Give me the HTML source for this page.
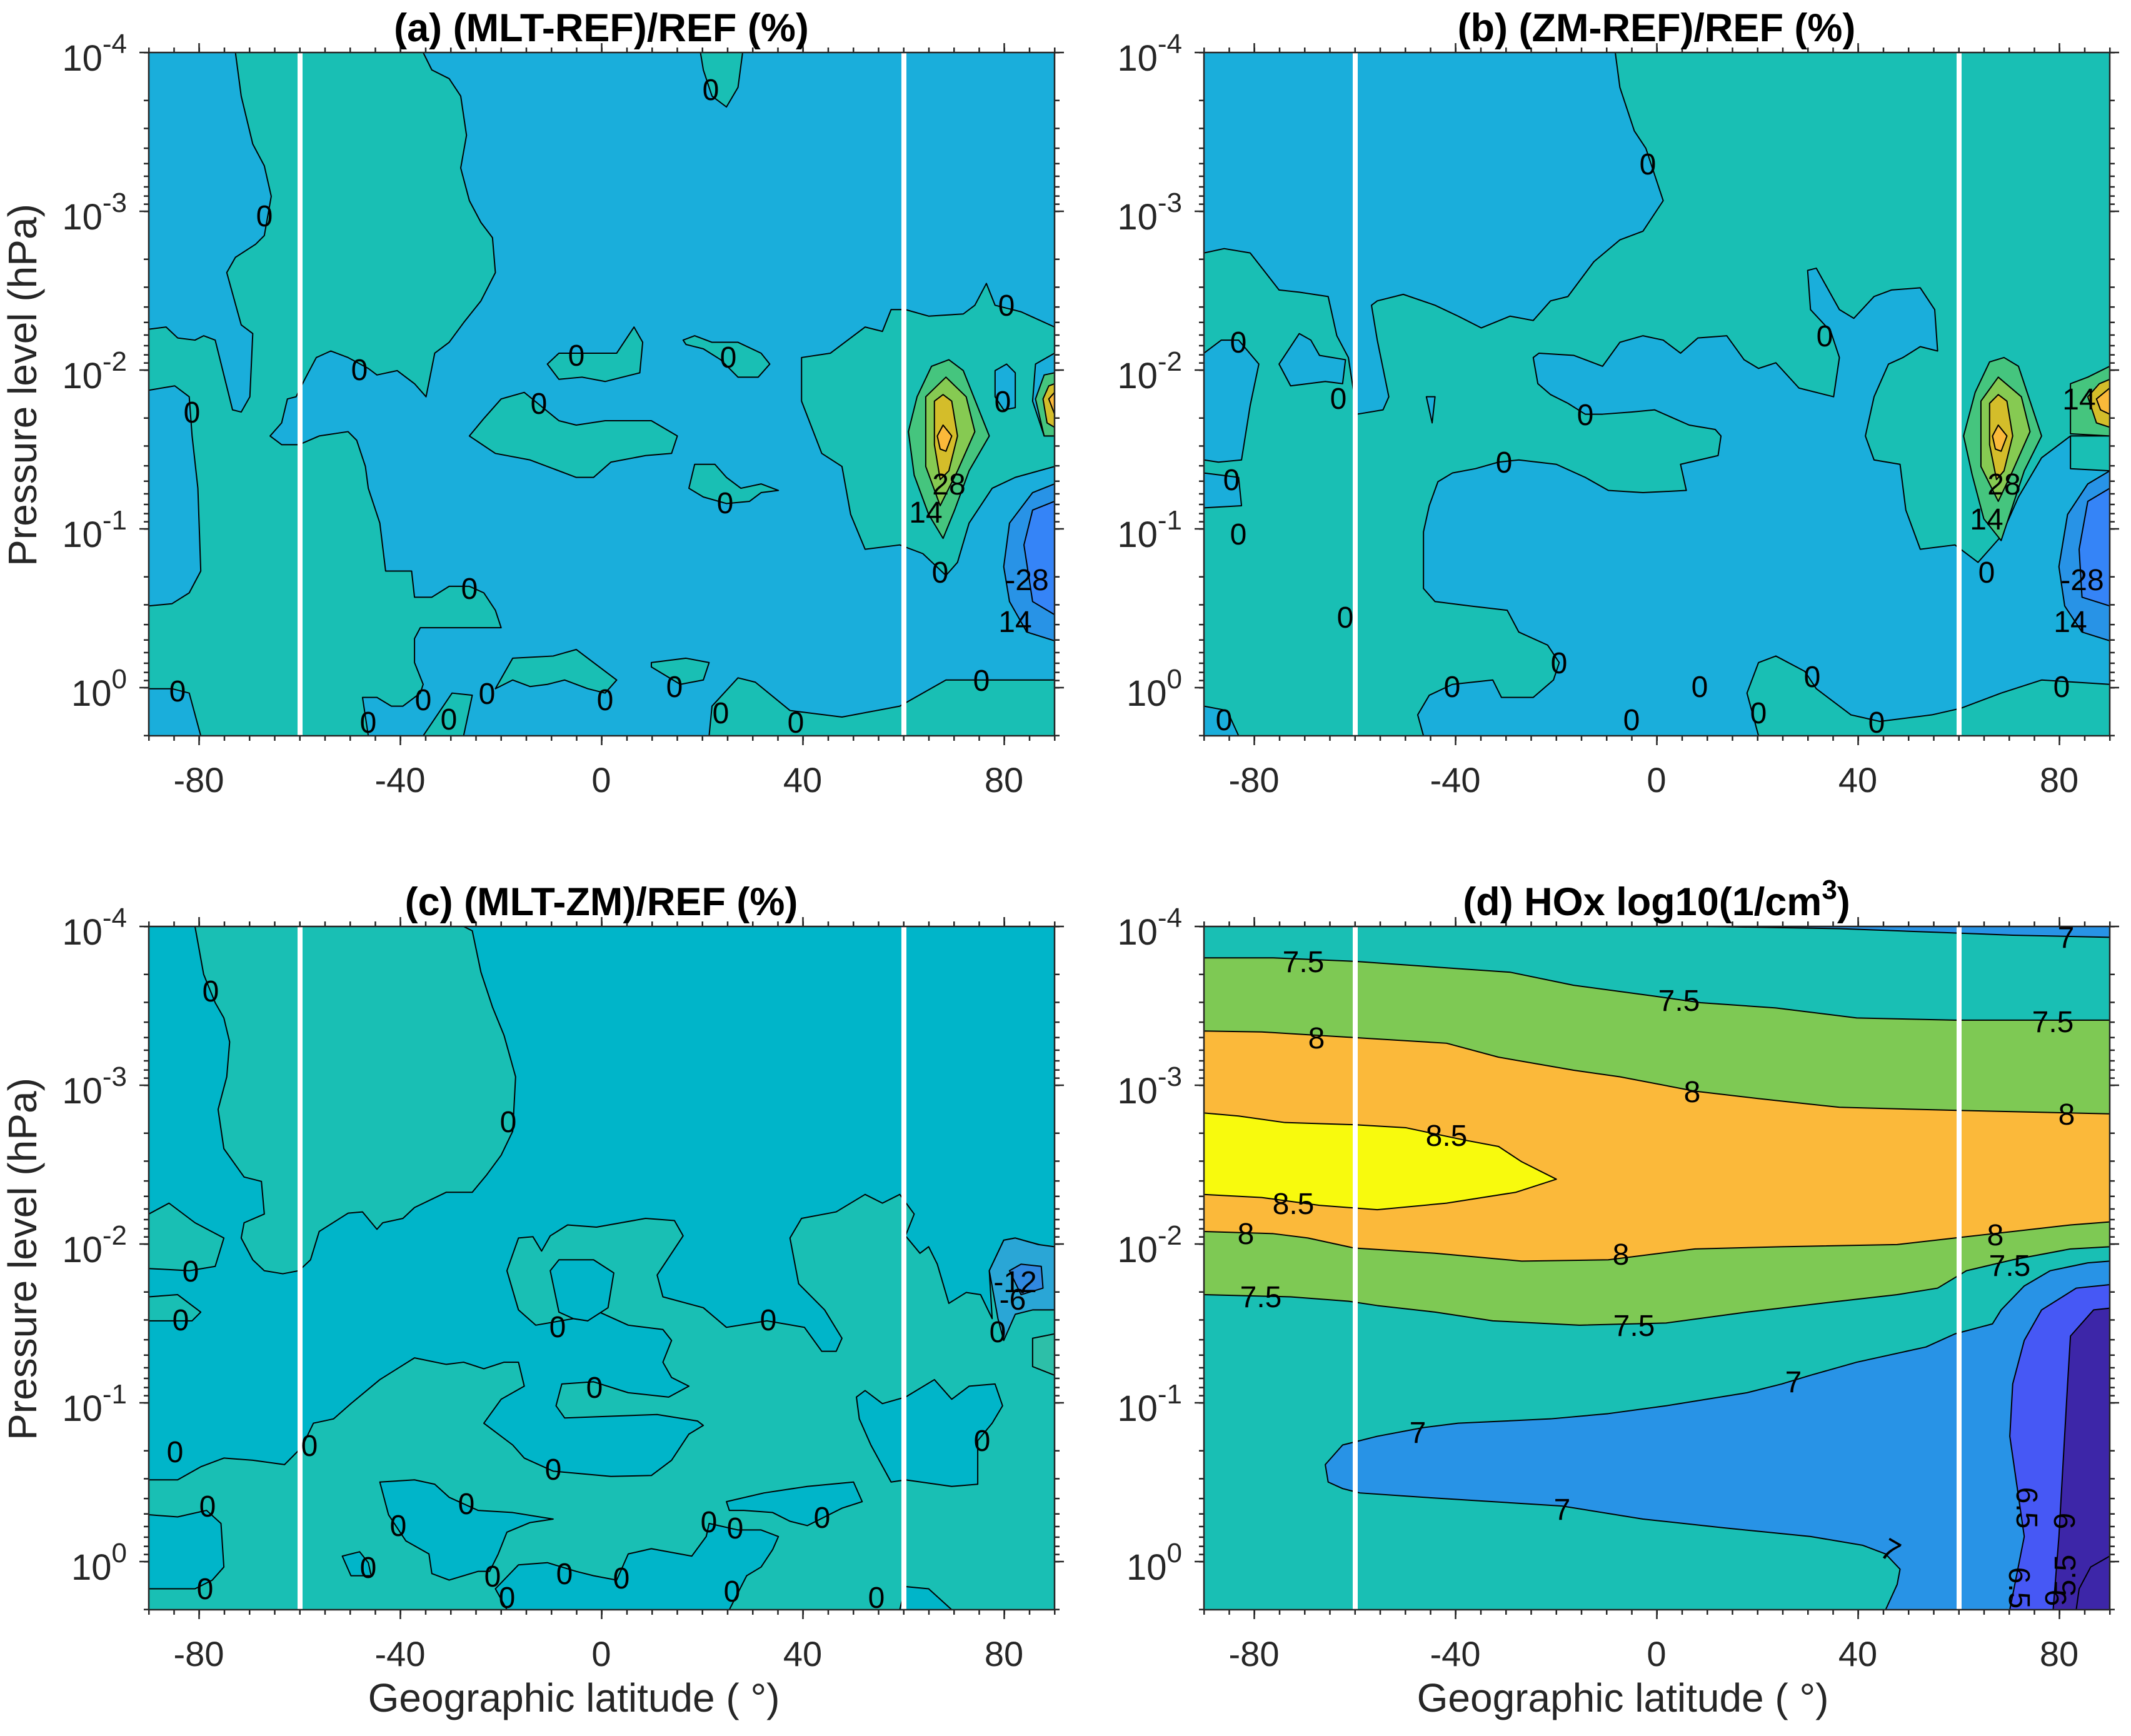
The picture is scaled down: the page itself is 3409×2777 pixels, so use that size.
<!DOCTYPE html>
<html><head><meta charset="utf-8"><style>
html,body{margin:0;padding:0;background:#fff;}
svg{display:block;}
.c polygon,.c polyline{stroke:#000;stroke-width:2;vector-effect:non-scaling-stroke;stroke-linejoin:round;}
.t{font-family:"Liberation Sans",sans-serif;fill:#262626;}
.lb{font-family:"Liberation Sans",sans-serif;font-size:48px;fill:#000;text-anchor:middle;}
</style></head><body>
<svg width="3409" height="2777" viewBox="0 0 3409 2777" xmlns="http://www.w3.org/2000/svg">
<defs>
<pattern id="pxb" x="237" y="0" width="40.25" height="10" patternUnits="userSpaceOnUse"><rect x="0" y="0" width="2.5" height="10" fill="#262626"/></pattern>
<pattern id="pxb2" x="1925" y="0" width="40.25" height="10" patternUnits="userSpaceOnUse"><rect x="0" y="0" width="2.5" height="10" fill="#262626"/></pattern>
<pattern id="py1" x="0" y="83" width="10" height="254" patternUnits="userSpaceOnUse"><g fill="#262626"><rect y="0" width="10" height="2.5"/><rect y="76.5" width="10" height="2.5"/><rect y="121.2" width="10" height="2.5"/><rect y="152.9" width="10" height="2.5"/><rect y="177.5" width="10" height="2.5"/><rect y="197.7" width="10" height="2.5"/><rect y="214.7" width="10" height="2.5"/><rect y="229.4" width="10" height="2.5"/><rect y="242.4" width="10" height="2.5"/></g></pattern>
<pattern id="py2" x="0" y="1481" width="10" height="254" patternUnits="userSpaceOnUse"><g fill="#262626"><rect y="0" width="10" height="2.5"/><rect y="76.5" width="10" height="2.5"/><rect y="121.2" width="10" height="2.5"/><rect y="152.9" width="10" height="2.5"/><rect y="177.5" width="10" height="2.5"/><rect y="197.7" width="10" height="2.5"/><rect y="214.7" width="10" height="2.5"/><rect y="229.4" width="10" height="2.5"/><rect y="242.4" width="10" height="2.5"/></g></pattern>
</defs>

<!-- Panel a -->
<svg class="c" x="238" y="84" width="1449" height="1093" viewBox="0 0 1568 1568" preserveAspectRatio="none">
<rect width="1568" height="1568" fill="#1aaedb"/>
<g fill="#19bfb4">
<polygon points="150,0 475,0 490,40 520,60 540,100 550,190 540,265 555,340 575,390 595,425 600,505 575,570 545,620 520,665 495,690 480,790 460,760 430,730 395,740 380,725 345,700 315,685 290,700 270,750 255,790 240,795 230,850 210,880 230,900 260,900 295,880 345,870 360,890 375,950 380,1000 400,1080 410,1190 455,1190 460,1250 490,1250 520,1225 555,1225 580,1240 600,1280 610,1320 470,1320 460,1345 460,1400 475,1450 470,1470 440,1500 420,1500 395,1480 370,1480 380,1568 90,1568 70,1470 40,1460 0,1460 0,1270 40,1265 70,1240 90,1190 85,1000 75,880 70,790 45,765 0,775 0,635 30,630 50,655 80,660 95,650 115,660 130,740 145,820 160,825 175,790 180,645 160,625 135,505 150,470 185,440 200,420 212,330 200,260 180,210 160,100"/>
<polygon points="970,1568 975,1500 1020,1435 1050,1445 1110,1510 1200,1525 1300,1500 1380,1440 1568,1440 1568,1568"/>
<polygon points="600,1460 630,1390 700,1385 740,1370 770,1400 810,1440 790,1470 760,1460 720,1440 690,1450 660,1455 630,1440"/>
<polygon points="870,1400 930,1390 970,1400 960,1440 920,1450 870,1410"/>
<polygon points="475,1568 525,1470 560,1475 545,1568"/>
<polygon points="690,715 710,690 760,690 810,690 840,630 855,665 850,735 820,745 790,755 750,745 710,750"/>
<polygon points="925,660 945,650 975,665 1020,665 1060,690 1075,715 1055,745 1020,745 990,705 960,680 930,670"/>
<polygon points="555,880 580,840 610,795 650,780 710,845 740,855 790,845 870,845 915,880 905,920 860,925 800,940 770,975 740,975 700,955 660,935 600,920"/>
<polygon points="935,1000 945,945 980,945 1000,975 1025,1000 1060,990 1090,1005 1060,1010 1040,1030 1000,1035 960,1020"/>
<polygon points="955,0 1028,0 1020,80 1000,125 975,100 960,40"/>
<polygon points="1130,700 1180,690 1240,630 1270,640 1285,590 1310,590 1350,605 1410,600 1430,580 1450,530 1465,580 1510,595 1568,630 1568,690 1535,715 1530,800 1550,880 1568,880 1568,950 1500,975 1460,1000 1420,1080 1400,1170 1380,1200 1340,1150 1300,1130 1240,1140 1215,1060 1200,950 1165,920 1130,800"/>
</g>
<polygon fill="#1aaedb" points="1465,730 1485,715 1500,735 1500,815 1480,820 1465,790"/>
<polygon fill="#45c57e" points="1315,870 1330,790 1355,720 1385,705 1410,730 1455,880 1420,960 1395,1050 1375,1115 1350,1060 1325,970"/>
<polygon fill="#86ca52" points="1345,790 1380,745 1415,790 1430,870 1400,960 1370,1040 1345,950"/>
<polygon fill="#d4bd2a" points="1360,800 1375,785 1390,800 1400,880 1385,960 1370,980 1360,900"/>
<polygon fill="#fbb93a" points="1365,880 1375,855 1390,880 1380,915 1370,910"/>
<polygon fill="#45c57e" points="1535,795 1550,740 1568,735 1568,880 1550,880"/>
<polygon fill="#d4bd2a" points="1548,795 1558,765 1568,760 1568,860 1555,850"/>
<polygon fill="#fbb93a" points="1558,795 1568,780 1568,830"/>
<polygon fill="#2893e6" points="1480,1180 1490,1080 1530,1010 1568,990 1568,1350 1520,1330 1490,1260"/>
<polygon fill="#3584f7" points="1515,1130 1530,1050 1568,1030 1568,1290 1530,1260"/>
</svg>

<!-- Panel b -->
<svg class="c" x="1926" y="84" width="1449" height="1093" viewBox="0 0 1568 1568" preserveAspectRatio="none">
<rect width="1568" height="1568" fill="#19bfb4"/>
<g fill="#1aaedb">
<polygon points="0,0 712,0 720,80 745,180 765,220 795,340 760,410 720,430 675,480 630,560 600,570 570,615 530,605 480,632 440,605 400,580 345,555 300,570 290,580 300,660 320,790 310,820 265,830 250,700 230,650 215,560 165,550 130,545 80,460 35,450 0,460"/>
<polygon points="0,690 30,660 60,660 95,715 80,810 65,935 25,940 0,935"/>
<polygon points="130,715 165,645 185,660 200,695 245,705 240,760 210,755 180,760 150,765"/>
<polygon points="0,965 60,975 65,1040 0,1045"/>
<polygon points="570,700 580,690 640,695 690,720 720,665 760,650 795,660 825,690 855,655 905,650 935,705 960,725 990,712 1030,770 1090,790 1100,700 1085,640 1050,590 1045,500 1060,495 1100,590 1125,610 1160,560 1190,545 1240,540 1265,590 1270,685 1240,675 1210,700 1185,715 1160,790 1145,880 1160,935 1205,945 1215,1050 1240,1140 1300,1130 1340,1170 1380,1110 1410,1020 1450,930 1500,880 1568,880 1568,1450 1450,1440 1380,1470 1310,1505 1260,1520 1170,1535 1120,1520 1060,1460 1040,1420 990,1385 960,1400 940,1470 960,1568 380,1568 370,1520 390,1475 430,1450 500,1440 515,1480 570,1480 605,1440 615,1400 595,1360 545,1330 525,1280 460,1270 400,1260 380,1230 380,1100 390,1040 405,985 430,965 470,955 510,940 545,935 610,945 660,975 700,1005 760,1010 835,1005 825,945 890,925 895,880 885,865 840,855 780,820 740,825 690,830 660,830 630,805 600,785 578,760"/>
<polygon points="385,790 400,790 395,850"/>
<polygon points="0,1500 40,1510 60,1568 0,1568"/>
</g>
<polygon fill="#19bfb4" points="1500,880 1568,880 1568,960 1500,955"/>
<polygon fill="#45c57e" points="1315,880 1335,780 1360,710 1385,700 1410,720 1450,880 1420,960 1400,1040 1380,1120 1350,1070 1330,970"/>
<polygon fill="#86ca52" points="1345,800 1375,745 1415,790 1430,870 1400,960 1375,1030 1345,950"/>
<polygon fill="#d4bd2a" points="1360,805 1375,785 1390,800 1400,880 1385,960 1372,980 1360,900"/>
<polygon fill="#fbb93a" points="1365,880 1375,855 1390,880 1380,915 1370,910"/>
<polygon fill="#45c57e" points="1500,760 1530,745 1568,720 1568,880 1500,875"/>
<polygon fill="#d4bd2a" points="1530,790 1550,760 1568,750 1568,860 1545,850"/>
<polygon fill="#fbb93a" points="1545,795 1568,770 1568,830 1552,820"/>
<polygon fill="#2893e6" points="1480,1180 1495,1060 1530,990 1568,960 1568,1350 1520,1330 1490,1270"/>
<polygon fill="#3584f7" points="1515,1140 1530,1030 1568,1000 1568,1270 1520,1250"/>
</svg>

<!-- Panel c -->
<svg class="c" x="238" y="1482" width="1449" height="1093" viewBox="0 0 1568 1568" preserveAspectRatio="none">
<rect width="1568" height="1568" fill="#00b5c9"/>
<g fill="#19bfb4">
<polygon points="80,0 545,0 560,10 575,105 595,185 615,250 635,345 630,470 610,525 585,570 560,610 515,610 460,645 440,670 405,680 395,695 370,655 345,658 295,700 280,765 260,790 232,797 200,790 180,765 160,715 165,680 200,660 195,585 165,575 130,510 120,420 135,345 140,265 130,210 115,175 95,110"/>
<polygon points="0,660 35,635 80,680 130,715 115,780 70,790 0,785"/>
<polygon points="0,850 50,845 90,885 75,905 0,905"/>
<polygon points="0,1270 50,1270 90,1240 130,1220 180,1225 235,1235 265,1195 285,1140 320,1130 350,1095 400,1040 460,990 515,1005 545,1000 580,1015 615,1000 640,1000 650,1055 610,1085 580,1140 630,1190 650,1220 700,1250 800,1262 870,1260 905,1225 935,1165 960,1145 950,1135 880,1120 720,1128 705,1100 715,1050 770,1045 830,1070 900,1080 935,1055 905,1035 890,1000 905,950 890,925 830,915 780,885 760,905 735,900 670,915 640,880 620,790 640,715 665,712 680,745 695,710 725,685 775,690 860,670 910,675 925,710 880,800 890,850 960,875 1000,920 1070,905 1135,920 1165,975 1190,975 1200,945 1170,880 1125,820 1110,715 1130,670 1190,655 1240,615 1270,635 1300,615 1325,660 1310,710 1335,750 1350,735 1365,775 1385,865 1415,840 1440,845 1460,900 1455,790 1480,720 1500,715 1568,740 1568,1568 0,1568"/>
</g>
<g fill="#00b5c9">
<polygon points="695,790 710,765 770,765 805,795 795,875 760,905 735,900 710,885"/>
<polygon points="1225,1080 1240,1065 1270,1095 1310,1080 1360,1040 1390,1085 1420,1055 1465,1050 1478,1100 1460,1140 1435,1180 1435,1280 1390,1285 1310,1270 1285,1275 1250,1190 1230,1130"/>
<polygon points="0,1350 50,1355 100,1340 125,1370 130,1470 110,1500 80,1520 0,1520"/>
<polygon points="400,1275 460,1270 495,1280 520,1310 570,1340 630,1345 700,1360 660,1368 620,1390 605,1440 590,1480 570,1480 520,1500 490,1485 485,1440 445,1410 415,1350"/>
<polygon points="600,1520 640,1465 690,1460 740,1480 770,1490 810,1500 830,1440 870,1428 940,1445 965,1400 970,1370 1020,1385 1060,1385 1090,1400 1080,1430 1060,1470 1035,1490 1005,1568 620,1568"/>
<polygon points="1000,1320 1065,1300 1140,1285 1220,1275 1235,1320 1200,1335 1140,1375 1110,1365 1080,1345 1030,1340 1005,1340"/>
<polygon points="1310,1515 1350,1520 1390,1568 1300,1568"/>
<polygon points="335,1445 365,1435 380,1460 385,1490 350,1490"/>
</g>
<polygon fill="#2aa6d6" points="1455,790 1480,720 1500,715 1540,730 1568,735 1568,880 1530,880 1500,890 1480,950 1470,900"/>
<polygon fill="#3088e0" points="1490,790 1510,775 1545,780 1548,830 1510,845"/>
<polygon fill="#2dbfa8" points="1530,945 1568,935 1568,1030 1530,1010"/>
</svg>

<!-- Panel d -->
<svg class="c" x="1926" y="1482" width="1449" height="1093" viewBox="0 0 1568 1568" preserveAspectRatio="none">
<rect width="1568" height="1568" fill="#19bfb4"/>
<polygon fill="#7ec954" points="0,72 120,72 260,80 420,95 530,105 640,135 780,160 860,175 990,187 1130,210 1300,215 1568,215 1568,735 1500,740 1400,765 1320,790 1270,830 1200,845 1100,860 940,885 800,910 650,915 500,905 400,885 300,870 250,860 150,850 0,845"/>
<polygon fill="#fbb93a" points="0,240 100,242 260,255 420,268 510,300 640,330 720,345 850,378 960,395 1100,415 1300,422 1568,430 1568,678 1500,685 1400,700 1300,715 1200,730 1000,735 850,740 700,765 550,768 400,750 260,738 180,715 120,705 0,700"/>
<polygon fill="#f8fa0d" points="0,428 60,435 140,450 260,455 350,462 450,490 510,505 550,540 610,580 540,610 420,635 300,650 200,640 100,622 0,615"/>
<polygon fill="#2893e6" points="870,0 1568,0 1568,25 1400,20 1100,5"/>
<polygon fill="#2893e6" points="210,1235 240,1190 300,1170 380,1150 440,1140 600,1130 700,1118 800,1100 940,1070 1000,1050 1050,1030 1130,1000 1250,965 1300,935 1365,912 1380,880 1420,825 1465,790 1530,772 1568,768 1568,1568 1180,1568 1200,1510 1205,1475 1180,1440 1140,1420 1050,1400 900,1380 760,1360 620,1330 500,1320 380,1310 270,1300 240,1290 215,1275"/>
<polygon fill="#4658f5" points="1395,1568 1420,1400 1395,1170 1400,1050 1420,950 1450,880 1510,830 1568,822 1568,1568"/>
<polygon fill="#3d26a8" points="1470,1568 1480,1400 1495,1050 1500,940 1540,880 1568,876 1568,1568"/>
<polyline fill="none" points="1568,1445 1535,1470 1515,1520 1510,1568"/>
</svg>

<!-- white lines -->
<g fill="#fff">
<rect x="476" y="84" width="8" height="1093"/><rect x="1442" y="84" width="8" height="1093"/>
<rect x="2164" y="84" width="8" height="1093"/><rect x="3130" y="84" width="8" height="1093"/>
<rect x="476" y="1482" width="8" height="1093"/><rect x="1442" y="1482" width="8" height="1093"/>
<rect x="2164" y="1482" width="8" height="1093"/><rect x="3130" y="1482" width="8" height="1093"/>
</g>

<!-- contour labels -->
<g class="lb">
<text x="423" y="362">0</text><text x="575" y="608">0</text><text x="922" y="585">0</text><text x="1165" y="588">0</text>
<text x="862" y="662">0</text><text x="1160" y="821">0</text><text x="1137" y="160">0</text><text x="751" y="958">0</text>
<text x="1610" y="505">0</text><text x="1604" y="659">0</text><text x="1504" y="932">0</text><text x="1570" y="1105">0</text>
<text x="307" y="676">0</text><text x="284" y="1122">0</text><text x="1518" y="791">28</text><text x="1481" y="836">14</text>
<text x="1643" y="944">-28</text><text x="1624" y="1011">14</text>
<text x="677" y="1136">0</text><text x="779" y="1126">0</text><text x="968" y="1136">0</text><text x="1079" y="1115">0</text>
<text x="1153" y="1157">0</text><text x="1273" y="1172">0</text><text x="589" y="1172">0</text><text x="718" y="1167">0</text>

<text x="2636" y="279">0</text><text x="1981" y="564">0</text><text x="2141" y="654">0</text><text x="2536" y="680">0</text>
<text x="2406" y="756">0</text><text x="2919" y="554">0</text><text x="1970" y="784">0</text><text x="1981" y="871">0</text>
<text x="2152" y="1004">0</text><text x="3206" y="791">28</text><text x="3178" y="847">14</text><text x="3326" y="655">14</text>
<text x="3178" y="932">0</text><text x="3331" y="944">-28</text><text x="3312" y="1011">14</text><text x="3298" y="1115">0</text>
<text x="2494" y="1077">0</text><text x="2323" y="1115">0</text><text x="2719" y="1115">0</text><text x="2899" y="1099">0</text>
<text x="3002" y="1172">0</text><text x="2813" y="1157">0</text><text x="1958" y="1168">0</text><text x="2610" y="1168">0</text>

<text x="337" y="1602">0</text><text x="813" y="1811">0</text><text x="305" y="2050">0</text><text x="289" y="2128">0</text>
<text x="892" y="2139">0</text><text x="1229" y="2128">0</text><text x="951" y="2236">0</text><text x="495" y="2329">0</text>
<text x="280" y="2339">0</text><text x="885" y="2367">0</text><text x="746" y="2422">0</text><text x="637" y="2457">0</text>
<text x="332" y="2426">0</text><text x="1571" y="2321">0</text><text x="1596" y="2147">0</text><text x="1315" y="2444">0</text>
<text x="1134" y="2451">0</text><text x="1176" y="2461">0</text><text x="1624" y="2067">-12</text><text x="1620" y="2095">-6</text>
<text x="589" y="2524">0</text><text x="788" y="2538">0</text><text x="903" y="2534">0</text><text x="994" y="2541">0</text>
<text x="328" y="2558">0</text><text x="1171" y="2562">0</text><text x="811" y="2572">0</text><text x="1402" y="2572">0</text>

<text x="2085" y="1555">7.5</text><text x="2686" y="1617">7.5</text><text x="3284" y="1651">7.5</text>
<text x="2106" y="1677">8</text><text x="2707" y="1763">8</text><text x="3306" y="1799">8</text>
<text x="2314" y="1833">8.5</text><text x="2069" y="1942">8.5</text><text x="1993" y="1990">8</text>
<text x="2593" y="2023">8</text><text x="3192" y="1992">8</text><text x="3215" y="2041">7.5</text>
<text x="2017" y="2091">7.5</text><text x="2614" y="2137">7.5</text><text x="2869" y="2227">7</text>
<text x="2268" y="2308">7</text><text x="2499" y="2431">7</text><text x="3305" y="1516">7</text>
<text transform="translate(3016,2494) rotate(30)">7</text>
<text transform="translate(3226,2412) rotate(90)">6.5</text>
<text transform="translate(3286,2433) rotate(90)">6</text>
<text transform="translate(3214,2540) rotate(90)">6.5</text>
<text transform="translate(3272,2556) rotate(90)">6</text>
<text transform="translate(3320,2520) rotate(-90)">5.5</text>
</g>

<!-- axes boxes -->
<g fill="none" stroke="#262626" stroke-width="2.5">
<rect x="238" y="84" width="1449" height="1093"/><rect x="1926" y="84" width="1449" height="1093"/>
<rect x="238" y="1482" width="1449" height="1093"/><rect x="1926" y="1482" width="1449" height="1093"/>
</g>
<!-- minor ticks -->
<rect x="237" y="1177" width="1452" height="8" fill="url(#pxb)"/><rect x="237" y="76" width="1452" height="8" fill="url(#pxb)"/>
<rect x="237" y="2575" width="1452" height="8" fill="url(#pxb)"/><rect x="237" y="1474" width="1452" height="8" fill="url(#pxb)"/>
<rect x="1925" y="1177" width="1452" height="8" fill="url(#pxb2)"/><rect x="1925" y="76" width="1452" height="8" fill="url(#pxb2)"/>
<rect x="1925" y="2575" width="1452" height="8" fill="url(#pxb2)"/><rect x="1925" y="1474" width="1452" height="8" fill="url(#pxb2)"/>
<rect x="230" y="83" width="8" height="1096" fill="url(#py1)"/><rect x="1687" y="83" width="8" height="1096" fill="url(#py1)"/>
<rect x="1918" y="83" width="8" height="1096" fill="url(#py1)"/><rect x="3375" y="83" width="8" height="1096" fill="url(#py1)"/>
<rect x="230" y="1481" width="8" height="1096" fill="url(#py2)"/><rect x="1687" y="1481" width="8" height="1096" fill="url(#py2)"/>
<rect x="1918" y="1481" width="8" height="1096" fill="url(#py2)"/><rect x="3375" y="1481" width="8" height="1096" fill="url(#py2)"/>
<!-- major ticks -->
<g stroke="#262626" stroke-width="2.5">
<path d="M318.5,1177v15M640.5,1177v15M962.5,1177v15M1284.5,1177v15M1606.5,1177v15M318.5,84v-15M640.5,84v-15M962.5,84v-15M1284.5,84v-15M1606.5,84v-15"/>
<path d="M318.5,2575v15M640.5,2575v15M962.5,2575v15M1284.5,2575v15M1606.5,2575v15M318.5,1482v-15M640.5,1482v-15M962.5,1482v-15M1284.5,1482v-15M1606.5,1482v-15"/>
<path d="M2006.5,1177v15M2328.5,1177v15M2650.5,1177v15M2972.5,1177v15M3294.5,1177v15M2006.5,84v-15M2328.5,84v-15M2650.5,84v-15M2972.5,84v-15M3294.5,84v-15"/>
<path d="M2006.5,2575v15M2328.5,2575v15M2650.5,2575v15M2972.5,2575v15M3294.5,2575v15M2006.5,1482v-15M2328.5,1482v-15M2650.5,1482v-15M2972.5,1482v-15M3294.5,1482v-15"/>
<path d="M238,84h-15M238,338h-15M238,592h-15M238,846h-15M238,1100h-15M1687,84h15M1687,338h15M1687,592h15M1687,846h15M1687,1100h15"/>
<path d="M1926,84h-15M1926,338h-15M1926,592h-15M1926,846h-15M1926,1100h-15M3375,84h15M3375,338h15M3375,592h15M3375,846h15M3375,1100h15"/>
<path d="M238,1482h-15M238,1736h-15M238,1990h-15M238,2244h-15M238,2498h-15M1687,1482h15M1687,1736h15M1687,1990h15M1687,2244h15M1687,2498h15"/>
<path d="M1926,1482h-15M1926,1736h-15M1926,1990h-15M1926,2244h-15M1926,2498h-15M3375,1482h15M3375,1736h15M3375,1990h15M3375,2244h15M3375,2498h15"/>
</g>

<!-- y tick labels -->
<g class="t" font-size="58" text-anchor="end">
<text x="203" y="113">10<tspan font-size="44" dy="-28">-4</tspan></text>
<text x="203" y="367">10<tspan font-size="44" dy="-28">-3</tspan></text>
<text x="203" y="621">10<tspan font-size="44" dy="-28">-2</tspan></text>
<text x="203" y="875">10<tspan font-size="44" dy="-28">-1</tspan></text>
<text x="203" y="1129">10<tspan font-size="44" dy="-28">0</tspan></text>
<text x="1891" y="113">10<tspan font-size="44" dy="-28">-4</tspan></text>
<text x="1891" y="367">10<tspan font-size="44" dy="-28">-3</tspan></text>
<text x="1891" y="621">10<tspan font-size="44" dy="-28">-2</tspan></text>
<text x="1891" y="875">10<tspan font-size="44" dy="-28">-1</tspan></text>
<text x="1891" y="1129">10<tspan font-size="44" dy="-28">0</tspan></text>
<text x="203" y="1511">10<tspan font-size="44" dy="-28">-4</tspan></text>
<text x="203" y="1765">10<tspan font-size="44" dy="-28">-3</tspan></text>
<text x="203" y="2019">10<tspan font-size="44" dy="-28">-2</tspan></text>
<text x="203" y="2273">10<tspan font-size="44" dy="-28">-1</tspan></text>
<text x="203" y="2527">10<tspan font-size="44" dy="-28">0</tspan></text>
<text x="1891" y="1511">10<tspan font-size="44" dy="-28">-4</tspan></text>
<text x="1891" y="1765">10<tspan font-size="44" dy="-28">-3</tspan></text>
<text x="1891" y="2019">10<tspan font-size="44" dy="-28">-2</tspan></text>
<text x="1891" y="2273">10<tspan font-size="44" dy="-28">-1</tspan></text>
<text x="1891" y="2527">10<tspan font-size="44" dy="-28">0</tspan></text>
</g>
<!-- x tick labels -->
<g class="t" font-size="56" text-anchor="middle">
<text x="318" y="1267">-80</text><text x="640" y="1267">-40</text><text x="962" y="1267">0</text><text x="1284" y="1267">40</text><text x="1606" y="1267">80</text>
<text x="2006" y="1267">-80</text><text x="2328" y="1267">-40</text><text x="2650" y="1267">0</text><text x="2972" y="1267">40</text><text x="3294" y="1267">80</text>
<text x="318" y="2665">-80</text><text x="640" y="2665">-40</text><text x="962" y="2665">0</text><text x="1284" y="2665">40</text><text x="1606" y="2665">80</text>
<text x="2006" y="2665">-80</text><text x="2328" y="2665">-40</text><text x="2650" y="2665">0</text><text x="2972" y="2665">40</text><text x="3294" y="2665">80</text>
</g>
<!-- axis labels -->
<g class="t" font-size="64" text-anchor="middle">
<text x="918" y="2738">Geographic latitude ( °)</text>
<text x="2596" y="2738">Geographic latitude ( °)</text>
<text transform="translate(58,616) rotate(-90)">Pressure level (hPa)</text>
<text transform="translate(58,2014) rotate(-90)">Pressure level (hPa)</text>
</g>
<!-- titles -->
<g font-family="Liberation Sans, sans-serif" font-weight="bold" font-size="63" fill="#000" text-anchor="middle">
<text x="962" y="66">(a) (MLT-REF)/REF (%)</text>
<text x="2650" y="66">(b) (ZM-REF)/REF (%)</text>
<text x="962" y="1464">(c) (MLT-ZM)/REF (%)</text>
<text x="2650" y="1464">(d) HOx log10(1/cm<tspan font-size="44" dy="-26">3</tspan><tspan dy="26">)</tspan></text>
</g>
</svg>
</body></html>
